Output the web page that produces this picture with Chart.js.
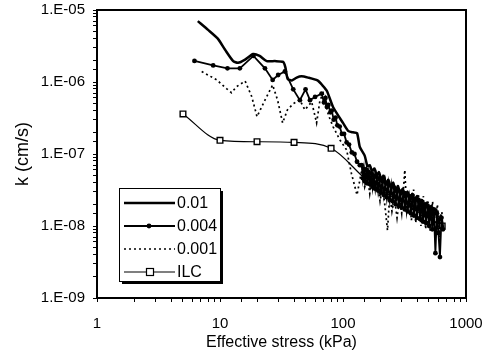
<!DOCTYPE html>
<html>
<head>
<meta charset="utf-8">
<script src="https://cdn.jsdelivr.net/npm/chart.js@4.4.1/dist/chart.umd.min.js"></script>
<style>
html,body{margin:0;padding:0;background:#fff;}
#c{display:block;}
</style>
</head>
<body>
<canvas id="c" width="487" height="354"></canvas>
<script>
// ---- data ----
const xTickLabels = ['1','10','100','1000'];
const yTickLabels = ['1.E-09','1.E-08','1.E-07','1.E-06','1.E-05'];
const seriesNames = ['0.01','0.004','0.001','ILC'];

const s01X = [6.6,8,9.6,11,12.8,14,16,18.6,21,24,28,32.6,34,35.5,38.4,42,46,52,62,68,74,83,100,110,120,130,137,150,
  158,165,172,180,188,196,205,214,224,234,245,256,268,280,293,306,320,335,350,366,383,400,418,437,457,478,500,523,547,572,598,625,650];
const s01K = [7.0e-6,5.3e-6,4.0e-6,2.8e-6,1.95e-6,1.85e-6,2.05e-6,2.45e-6,2.3e-6,1.95e-6,1.95e-6,1.9e-6,1.6e-6,1.1e-6,1.05e-6,1.15e-6,1.2e-6,1.15e-6,1.05e-6,9.0e-7,7.5e-7,4.5e-7,2.7e-7,2.1e-7,2.0e-7,1.95e-7,1.25e-7,9.5e-8,
  6.8e-8,7.0e-8,5.8e-8,6.3e-8,5.0e-8,5.6e-8,4.4e-8,5.0e-8,3.8e-8,4.4e-8,3.4e-8,4.0e-8,3.0e-8,3.6e-8,2.7e-8,3.3e-8,2.5e-8,3.0e-8,2.2e-8,2.8e-8,2.0e-8,2.6e-8,1.8e-8,2.3e-8,1.6e-8,2.1e-8,1.45e-8,1.9e-8,1.3e-8,1.7e-8,1.1e-8,1.4e-8,9.5e-9];

const s004X = [6.2,8.8,11.5,14.5,18.7,23.2,26.8,29.7,33.7,39.4,44.6,49.6,53.9,59.3,
  67,70,72,74,76,79,81,84,87,90,94,98,102,107,112,118,124,130,137,
  142,145,148,151,155,158,162,166,170,174,178,183,188,193,198,203,209,215,221,227,233,240,247,254,261,268,276,284,292,300,
  309,318,327,336,346,356,366,377,388,399,411,423,435,448,461,474,488,502,517,532,548,564,580,597,614,632,650];
const s004K = [1.96e-6,1.7e-6,1.55e-6,1.55e-6,2.3e-6,1.55e-6,1.07e-6,1.25e-6,1.4e-6,7.9e-7,5.6e-7,7.9e-7,5.6e-7,6.2e-7,
  6.9e-7,5.2e-7,6.0e-7,4.5e-7,4.8e-7,3.8e-7,4.0e-7,3.0e-7,3.2e-7,2.5e-7,2.4e-7,1.9e-7,1.9e-7,1.45e-7,1.35e-7,1.05e-7,1.0e-7,7.8e-8,7.0e-8,
  7.0e-8,4.6e-8,6.2e-8,4.2e-8,6.0e-8,3.9e-8,5.6e-8,3.8e-8,5.3e-8,3.5e-8,5.0e-8,3.3e-8,4.8e-8,3.1e-8,4.5e-8,2.9e-8,4.2e-8,2.7e-8,4.0e-8,2.5e-8,3.8e-8,2.3e-8,3.6e-8,2.2e-8,3.4e-8,2.0e-8,3.2e-8,1.9e-8,3.0e-8,1.8e-8,
  2.9e-8,1.7e-8,2.7e-8,1.6e-8,2.6e-8,1.5e-8,2.5e-8,1.4e-8,2.4e-8,1.3e-8,2.3e-8,1.25e-8,2.2e-8,1.15e-8,2.0e-8,1.1e-8,1.9e-8,1.0e-8,1.8e-8,9.0e-9,1.7e-8,4.2e-9,1.5e-8,8.0e-9,3.7e-9,1.3e-8,9.0e-9];

const s0001X = [7.1,9.4,11.3,12.4,13.6,16,18.1,20,23.2,26.8,29.4,32.3,35.3,39.4,44.6,49,55.6,61,65,69,76,83,94.5,107,117,130,142,150,158,165,172,180,190,200,210,220,230,240,250,262,275,288,300,318,330,345,360,375,390,410,430,450,470,490,510,535,560,585,610,640];
const s0001K = [1.4e-6,1.07e-6,8.1e-7,7.1e-7,8.6e-7,1.03e-6,6.3e-7,3.3e-7,5.6e-7,9.1e-7,5.6e-7,2.7e-7,4.1e-7,5.0e-7,5.6e-7,4.1e-7,5.3e-7,2.7e-7,5.6e-7,6.9e-7,3.5e-7,2.4e-7,1.56e-7,1.14e-7,5.4e-8,2.7e-8,6.0e-8,3.5e-8,5.0e-8,2.8e-8,4.5e-8,3.0e-8,4.0e-8,2.2e-8,3.6e-8,1.8e-8,8.7e-9,2.8e-8,1.6e-8,2.5e-8,1.3e-8,2.4e-8,1.5e-8,6.0e-8,1.6e-8,2.6e-8,1.2e-8,3.2e-8,1.1e-8,2.8e-8,1.0e-8,2.6e-8,9.0e-9,2.3e-8,8.5e-9,2.2e-8,7.5e-9,2.0e-8,7.0e-9,1.6e-8];

const ilcX = [5,10,20,40,80,160,320,640];
const ilcK = [3.6e-7,1.55e-7,1.48e-7,1.45e-7,1.2e-7,4.2e-8,2.0e-8,1.0e-8];

function pts(xs, ks){ return xs.map((x,i)=>({x:x, y:ks[i]})); }

const FONT = '"Liberation Sans", Arial, sans-serif';

const legendPlugin = {
  id: 'frameLegend',
  afterDraw(chart){
    const ctx = chart.ctx, a = chart.chartArea;
    ctx.save();
    ctx.strokeStyle = '#000';
    ctx.lineWidth = 2;
    ctx.strokeRect(a.left, a.top, a.right - a.left, a.bottom - a.top);
    // legend box with shadow
    const bx = 119, by = 188, bw = 101, bh = 93;
    ctx.fillStyle = '#000';
    ctx.fillRect(bx + 3, by + 3, bw, bh);
    ctx.fillStyle = '#fff';
    ctx.fillRect(bx, by, bw, bh);
    ctx.lineWidth = 1;
    ctx.strokeStyle = '#000';
    ctx.strokeRect(bx + 0.5, by + 0.5, bw, bh);
    const rows = [203, 226, 249, 272];
    chart.data.datasets.forEach((ds, i) => {
      const y = rows[i];
      ctx.save();
      ctx.strokeStyle = '#000';
      ctx.lineWidth = ds.borderWidth;
      ctx.setLineDash(ds.borderDash || []);
      ctx.beginPath();
      ctx.moveTo(124, y);
      ctx.lineTo(175, y);
      ctx.stroke();
      ctx.setLineDash([]);
      if (ds.pointRadius > 0) {
        ctx.lineWidth = 1.2;
        if (ds.pointStyle === 'rect') {
          ctx.fillStyle = '#fff';
          ctx.fillRect(146, y - 4, 8, 8);
          ctx.strokeRect(146.5, y - 3.5, 7, 7);
        } else {
          ctx.fillStyle = '#000';
          ctx.beginPath();
          ctx.arc(149, y, 2.4, 0, Math.PI * 2);
          ctx.fill();
        }
      }
      ctx.restore();
      ctx.fillStyle = '#000';
      ctx.font = '16px ' + FONT;
      ctx.textAlign = 'left';
      ctx.textBaseline = 'middle';
      ctx.fillText(ds.label, 177, y + 1);
    });
    ctx.restore();
  }
};

function yLabel(v){
  const e = Math.log10(v);
  const r = Math.round(e);
  if (Math.abs(e - r) > 1e-6) return '';
  return yTickLabels[r + 9] || '';
}
function xLabel(v){
  const e = Math.log10(v);
  const r = Math.round(e);
  if (Math.abs(e - r) > 1e-6) return '';
  return xTickLabels[r] || '';
}

new Chart(document.getElementById('c'), {
  type: 'line',
  data: {
    datasets: [
      { label: seriesNames[0], data: pts(s01X, s01K), borderColor: '#000', borderWidth: 2.5, pointRadius: 0, tension: 0.2 },
      { label: seriesNames[1], data: pts(s004X, s004K), borderColor: '#000', borderWidth: 1.8, pointRadius: 2.4, pointBackgroundColor: '#000', pointBorderColor: '#000', pointBorderWidth: 0, pointStyle: 'circle' },
      { label: seriesNames[2], data: pts(s0001X, s0001K), borderColor: '#000', borderWidth: 1.7, borderDash: [2, 3], pointRadius: 0 },
      { label: seriesNames[3], data: pts(ilcX, ilcK), borderColor: '#000', borderWidth: 1.2, pointRadius: 4, pointStyle: 'rect', pointBackgroundColor: '#fff', pointBorderColor: '#000', pointBorderWidth: 1.4, cubicInterpolationMode: 'monotone' }
    ]
  },
  options: {
    responsive: false,
    animation: false,
    devicePixelRatio: 1,
    layout: { padding: { top: 10, right: 21, left: 0, bottom: 0 } },
    plugins: { legend: { display: false }, tooltip: { enabled: false } },
    scales: {
      x: {
        type: 'logarithmic',
        min: 1, max: 1000,
        afterFit(s){ s.height = 56; s.paddingLeft = 0; s.paddingRight = 0; },
        grid: { drawOnChartArea: false, drawTicks: true, tickLength: 4, color: '#000' },
        border: { display: false },
        ticks: { autoSkip: false, maxRotation: 0, minRotation: 0, padding: 13, color: '#000', font: { size: 15, family: FONT }, callback: xLabel },
        title: { display: true, text: 'Effective stress (kPa)', color: '#000', font: { size: 16, family: FONT }, padding: { top: 0, bottom: 2 } }
      },
      y: {
        type: 'logarithmic',
        min: 1e-9, max: 1e-5,
        afterFit(s){ s.width = 97; s.paddingTop = 0; s.paddingBottom = 0; },
        grid: { drawOnChartArea: false, drawTicks: true, tickLength: 4, color: '#000' },
        border: { display: false },
        ticks: { autoSkip: false, padding: 8, color: '#000', font: { size: 15, family: FONT }, callback: yLabel },
        title: { display: true, text: 'k (cm/s)', color: '#000', font: { size: 18, family: FONT }, padding: { top: 12, bottom: 0 } }
      }
    }
  },
  plugins: [legendPlugin]
});
</script>
</body>
</html>
